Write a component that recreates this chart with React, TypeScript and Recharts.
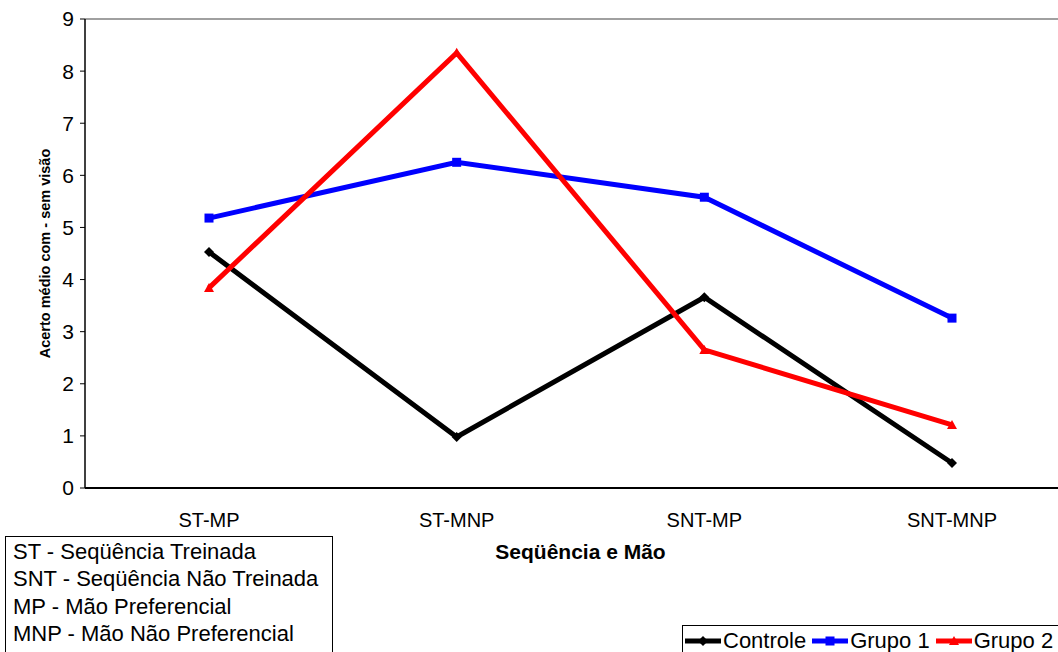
import React from 'react';
import { LineChart, Line, XAxis, YAxis, ReferenceLine } from 'recharts';

const categories = ['ST-MP', 'ST-MNP', 'SNT-MP', 'SNT-MNP'];
const controle = [4.53, 0.98, 3.66, 0.48];
const grupo1 = [5.18, 6.25, 5.58, 3.26];
const grupo2 = [3.84, 8.35, 2.65, 1.21];
const yTicks = [0, 1, 2, 3, 4, 5, 6, 7, 8, 9];

const abbreviations = [
  'ST - Seqüência Treinada',
  'SNT - Seqüência Não Treinada',
  'MP - Mão Preferencial',
  'MNP - Mão Não Preferencial',
];

const data = categories.map((name, i) => ({
  name,
  controle: controle[i],
  grupo1: grupo1[i],
  grupo2: grupo2[i],
}));

const FONT = 'Arial, "Liberation Sans", Helvetica, sans-serif';

const DiamondDot = ({ cx, cy }: any) => (
  <path d={`M${cx},${cy - 5} L${cx + 5},${cy} L${cx},${cy + 5} L${cx - 5},${cy} Z`} fill="#000" />
);

const SquareDot = ({ cx, cy }: any) => (
  <rect x={cx - 4.5} y={cy - 4.5} width={9} height={9} fill="#0000ff" />
);

const TriangleDot = ({ cx, cy }: any) => (
  <path d={`M${cx},${cy - 5} L${cx + 5},${cy + 4} L${cx - 5},${cy + 4} Z`} fill="#ff0000" />
);

const series = [
  { key: 'controle', label: 'Controle', color: '#000000', marker: 'diamond' },
  { key: 'grupo1', label: 'Grupo 1', color: '#0000ff', marker: 'square' },
  { key: 'grupo2', label: 'Grupo 2', color: '#ff0000', marker: 'triangle' },
];

const LegendMarker = ({ color, marker }: { color: string; marker: string }) => (
  <svg width={40} height={14} style={{ verticalAlign: 'middle' }}>
    <line x1={2} y1={7} x2={38} y2={7} stroke={color} strokeWidth={5} />
    {marker === 'diamond' && <path d="M20,2 L25,7 L20,12 L15,7 Z" fill={color} />}
    {marker === 'square' && <rect x={15.5} y={2.5} width={9} height={9} fill={color} />}
    {marker === 'triangle' && <path d="M20,2 L25,11 L15,11 Z" fill={color} />}
  </svg>
);

const SeriesLegend = () => (
  <div
    style={{
      position: 'absolute',
      left: 682,
      top: 625,
      width: 400,
      border: '1px solid #000',
      borderRight: 'none',
      borderBottom: 'none',
      background: '#fff',
      display: 'flex',
      alignItems: 'center',
      height: 30,
      fontFamily: FONT,
      fontSize: 22,
      color: '#000',
      whiteSpace: 'nowrap',
    }}
  >
    {series.map((s) => (
      <span key={s.key} style={{ display: 'inline-flex', alignItems: 'center', marginRight: 4 }}>
        <LegendMarker color={s.color} marker={s.marker} />
        <span>{s.label}</span>
      </span>
    ))}
  </div>
);

export default function App() {
  return (
    <div
      style={{
        position: 'absolute',
        left: 0,
        top: 0,
        width: 1058,
        height: 652,
        overflow: 'hidden',
        background: '#fff',
        fontFamily: FONT,
      }}
    >
      <LineChart
        width={1080}
        height={652}
        data={data}
        margin={{ top: 19, right: 4, left: 0, bottom: 134 }}
      >
        <XAxis
          dataKey="name"
          axisLine={{ stroke: '#000', strokeWidth: 2 }}
          tickLine={false}
          tick={{ fontSize: 20, fill: '#000', fontFamily: FONT }}
          tickMargin={19}
          interval={0}
          padding={{ left: 124, right: 124 }}
          label={{
            value: 'Seqüência e Mão',
            position: 'insideBottom',
            offset: -3,
            dy: 38,
            style: { fontSize: 21, fontWeight: 'bold', fill: '#000', fontFamily: FONT },
          }}
        />
        <YAxis
          domain={[0, 9]}
          ticks={yTicks}
          interval={0}
          width={85}
          axisLine={{ stroke: '#000', strokeWidth: 1.5 }}
          tickLine={{ stroke: '#000' }}
          tickSize={5}
          tickMargin={6}
          tick={{ fontSize: 21, fill: '#000', fontFamily: FONT }}
          label={{
            value: 'Acerto médio com - sem visão',
            angle: -90,
            position: 'insideLeft',
            offset: 45,
            style: { fontSize: 14.5, fontWeight: 'bold', fill: '#000', fontFamily: FONT, textAnchor: 'middle' },
          }}
        />
        <ReferenceLine y={9} stroke="#808080" strokeWidth={1.5} />
        <Line
          dataKey="controle"
          name="Controle"
          stroke="#000000"
          strokeWidth={5}
          dot={<DiamondDot />}
          activeDot={false}
          isAnimationActive={false}
        />
        <Line
          dataKey="grupo1"
          name="Grupo 1"
          stroke="#0000ff"
          strokeWidth={5}
          dot={<SquareDot />}
          activeDot={false}
          isAnimationActive={false}
        />
        <Line
          dataKey="grupo2"
          name="Grupo 2"
          stroke="#ff0000"
          strokeWidth={5}
          dot={<TriangleDot />}
          activeDot={false}
          isAnimationActive={false}
        />
      </LineChart>
      <SeriesLegend />
      <div
        style={{
          position: 'absolute',
          left: 5,
          top: 536,
          width: 328,
          height: 130,
          border: '1px solid #000',
          boxSizing: 'border-box',
          padding: '1px 0 0 7px',
          fontSize: 22,
          lineHeight: '27.3px',
          color: '#000',
          fontFamily: FONT,
        }}
      >
        {abbreviations.map((t) => (
          <div key={t}>{t}</div>
        ))}
      </div>
    </div>
  );
}
